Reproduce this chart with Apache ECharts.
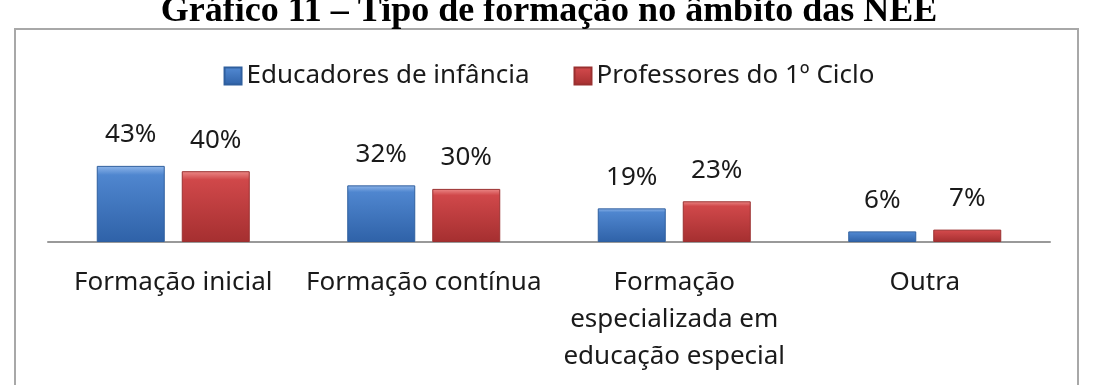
<!DOCTYPE html>
<html lang="pt">
<head>
    <meta charset="utf-8"/>
    <title>Gráfico 11 – Tipo de formação no âmbito das NEE</title>
    <script src="https://cdn.jsdelivr.net/npm/echarts@6/dist/echarts.min.js"></script>
    <style>
        html, body {
            margin: 0;
            background: #fff;
        }

        .chart {
            width: 1098px;
            height: 385px;
        }
    </style>
</head>
<body>
<div class="chart"></div>
<script>
    const titleText = "Gráfico 11 – Tipo de formação no âmbito das NEE";
    const categories = [
        "Formação inicial",
        "Formação contínua",
        "Formação\nespecializada em\neducação especial",
        "Outra"
    ];
    const seriesNames = ["Educadores de infância", "Professores do 1º Ciclo"];
    const educadores = [43, 32, 19, 6];
    const professores = [40, 30, 23, 7];

    const font = "'Noto Sans', 'Open Sans', sans-serif";

    function barColor(top, mid, bottom) {
        return new echarts.graphic.LinearGradient(0, 0, 0, 1, [
            {offset: 0, color: top},
            {offset: 0.12, color: mid},
            {offset: 1, color: bottom}
        ]);
    }

    const chart = echarts.init(document.querySelector(".chart"));
    const option = {
        animation: false,
        backgroundColor: "#fff",
        graphic: [
            {
                type: "rect",
                shape: {x: 15, y: 29, width: 1063, height: 380},
                style: {fill: "none", stroke: "#a8a8a8", lineWidth: 2}
            },
            {
                type: "text",
                x: 549,
                y: 12,
                style: {
                    text: titleText,
                    align: "center",
                    verticalAlign: "middle",
                    font: "bold 36px 'Liberation Serif', serif",
                    fill: "#000"
                }
            }
        ],
        legend: {
            top: 58,
            left: "center",
            itemWidth: 17,
            itemHeight: 17,
            itemGap: 44,
            icon: "rect",
            textStyle: {fontFamily: font, fontSize: 26, color: "#1a1a1a"},
            data: seriesNames
        },
        grid: {
            left: 48,
            right: 48,
            top: 65,
            height: 177
        },
        xAxis: {
            type: "category",
            data: categories,
            axisLine: {lineStyle: {color: "#999", width: 2}},
            axisTick: {show: false},
            axisLabel: {
                fontFamily: font,
                fontSize: 26,
                color: "#1a1a1a",
                lineHeight: 37,
                margin: 22,
                interval: 0
            }
        },
        yAxis: {
            type: "value",
            min: 0,
            max: 100,
            show: false
        },
        series: [
            {
                name: seriesNames[0],
                type: "bar",
                data: educadores,
                barWidth: 68,
                barGap: "25%",
                itemStyle: {
                    color: barColor("#8fb6ea", "#4f86cf", "#2f62a8"),
                    borderColor: "#2f5f9e",
                    borderWidth: 1
                },
                label: {
                    show: true,
                    position: "top",
                    distance: 18,
                    formatter: "{c}%",
                    fontFamily: font,
                    fontSize: 26,
                    color: "#1a1a1a"
                }
            },
            {
                name: seriesNames[1],
                type: "bar",
                data: professores,
                barWidth: 68,
                itemStyle: {
                    color: barColor("#ec8a88", "#d0484a", "#a52f30"),
                    borderColor: "#9a3030",
                    borderWidth: 1
                },
                label: {
                    show: true,
                    position: "top",
                    distance: 18,
                    formatter: "{c}%",
                    fontFamily: font,
                    fontSize: 26,
                    color: "#1a1a1a"
                }
            }
        ]
    };
    chart.setOption(option);
</script>
</body>
</html>
